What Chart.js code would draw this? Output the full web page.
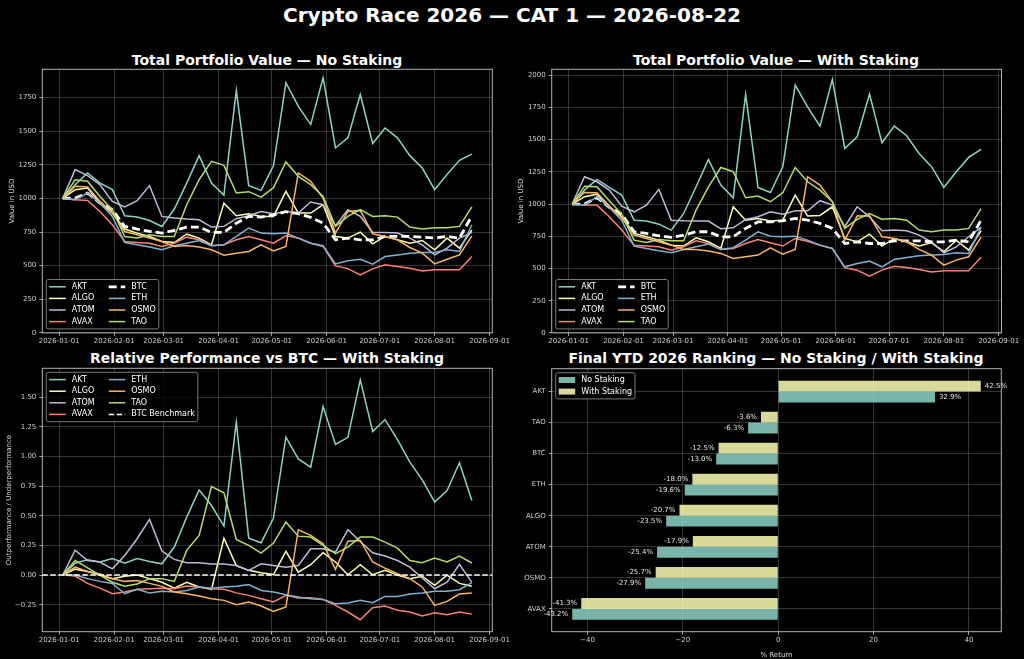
<!DOCTYPE html>
<html>
<head>
<meta charset="utf-8">
<title>Crypto Race 2026</title>
<script src="https://cdn.jsdelivr.net/npm/chart.js@4.4.1/dist/chart.umd.min.js"></script>
<style>
  html, body { margin: 0; padding: 0; background: #000; }
  body { width: 1024px; height: 659px; position: relative; overflow: hidden; font-family: "DejaVu Sans", sans-serif; color: #fff; }
  .ttl { position: absolute; left: 0; width: 1024px; text-align: center; font-weight: bold; font-size: 20px; line-height: 24px; top: 3px; white-space: nowrap; }
  .sub { position: absolute; font-weight: bold; font-size: 14px; line-height: 16px; white-space: nowrap; transform: translateX(-50%); }
  canvas { position: absolute; }
</style>
</head>
<body>
<div class="ttl">Crypto Race 2026 — CAT 1 — 2026-08-22</div>
<div class="sub" style="left:267px;top:52px;">Total Portfolio Value — No Staking</div>
<div class="sub" style="left:776px;top:52px;">Total Portfolio Value — With Staking</div>
<div class="sub" style="left:267px;top:350px;">Relative Performance vs BTC — With Staking</div>
<div class="sub" style="left:776px;top:350px;">Final YTD 2026 Ranking — No Staking / With Staking</div>

<canvas id="tl" width="512" height="290" style="left:0px;top:60px;"></canvas>
<canvas id="tr" width="512" height="290" style="left:509px;top:60px;"></canvas>
<canvas id="bl" width="512" height="290" style="left:0px;top:360px;"></canvas>
<canvas id="br" width="512" height="299" style="left:509px;top:360px;"></canvas>

<script>
// ---------- data ----------
var dates = ['2026-01-03','2026-01-10','2026-01-17','2026-01-24','2026-01-31','2026-02-07','2026-02-14',
             '2026-02-21','2026-02-28','2026-03-07','2026-03-14','2026-03-21','2026-03-28','2026-04-04',
             '2026-04-11','2026-04-18','2026-04-25','2026-05-02','2026-05-09','2026-05-16','2026-05-23',
             '2026-05-30','2026-06-06','2026-06-13','2026-06-20','2026-06-27','2026-07-04','2026-07-11',
             '2026-07-18','2026-07-25','2026-08-01','2026-08-08','2026-08-15','2026-08-22'];

var assets = ['AKT','ALGO','ATOM','AVAX','BTC','ETH','OSMO','TAO'];
var colors = ['#8dd3c7','#feffb3','#bfbbd9','#fa8174','#ffffff','#81b1d2','#fdb462','#b3de69'];

// portfolio value, no staking (USD)
var akt_ns  = [1000,1102,1189,1114,1065,871,861,836,791,921,1114,1318,1114,1025,1802,1095,1060,1245,1860,1686,1549,1897,1375,1450,1773,1408,1524,1450,1318,1226,1065,1177,1283,1329];
var algo_ns = [1000,1065,1077,965,891,772,742,717,680,672,734,705,655,965,871,886,866,866,1052,891,891,953,717,705,749,662,717,692,667,687,618,705,630,765];
var atom_ns = [1000,1214,1169,1102,978,936,983,1095,866,854,846,841,787,792,849,871,903,886,903,891,973,953,797,916,866,749,747,742,705,655,580,630,705,746];
var avax_ns = [1000,990,985,903,804,680,672,667,643,667,712,692,648,655,692,717,692,667,722,705,667,643,498,478,431,476,506,493,481,461,469,469,469,568];
var btc_ns  = [1000,1003,1040,965,916,792,772,755,742,762,787,787,747,747,816,866,861,878,901,886,859,816,692,705,692,692,717,717,717,712,705,717,705,870];
var eth_ns  = [1000,990,1040,965,866,672,655,638,618,648,667,687,648,655,717,779,742,737,742,705,667,648,513,536,548,511,568,580,593,598,598,618,605,804];
var osmo_ns = [1000,1090,1085,978,891,754,730,705,680,643,650,638,618,578,593,605,655,610,643,1189,1127,1003,742,903,911,737,717,692,635,593,513,548,580,721];
var tao_ns  = [1000,1139,1127,1015,916,717,705,730,717,717,953,1139,1276,1246,1040,1050,1010,1080,1271,1164,1102,1015,792,866,916,866,871,861,787,772,782,782,792,937];

// portfolio value, with staking (USD)
var akt_ws  = [1000,1108,1191,1129,1070,875,868,844,798,927,1134,1346,1147,1049,1851,1129,1090,1290,1924,1755,1605,1968,1432,1522,1854,1476,1605,1530,1393,1290,1129,1251,1362,1425];
var algo_ws = [1000,1057,1077,979,901,772,746,720,681,674,738,707,655,979,875,888,868,875,1070,907,912,979,733,707,767,674,733,707,674,699,630,720,643,793];
var atom_ws = [1000,1212,1173,1108,984,940,992,1114,875,870,868,868,808,816,881,901,940,922,948,948,1026,992,824,979,901,793,798,793,759,707,622,668,746,821];
var avax_ws = [1000,992,992,901,798,681,674,668,642,668,715,694,648,655,694,725,699,674,733,712,681,655,505,487,441,487,518,508,492,472,482,482,482,587];
var btc_ws  = [1000,1000,1049,974,922,785,772,754,741,759,785,785,746,746,811,862,862,870,888,875,850,811,694,707,694,694,715,715,715,707,707,720,707,875];
var eth_ws  = [1000,992,1057,974,875,674,655,637,622,648,668,689,648,661,720,785,751,746,751,720,681,655,513,539,557,513,570,586,598,604,609,622,617,820];
var osmo_ws = [1000,1090,1088,984,894,759,733,707,681,648,648,635,617,578,591,604,661,611,648,1212,1147,1018,720,907,909,746,733,707,648,604,526,565,591,743];
var tao_ws  = [1000,1139,1134,1026,922,720,702,725,715,715,953,1134,1284,1251,1049,1062,1018,1088,1284,1173,1108,1018,811,881,927,883,888,875,798,785,798,798,811,964];

// relative performance vs BTC (with staking)
var akt_rel  = [0,0.10,0.13,0.11,0.14,0.10,0.14,0.115,0.095,0.236,0.488,0.718,0.586,0.413,1.288,0.311,0.272,0.48,1.162,0.979,0.909,1.42,1.10,1.16,1.644,1.21,1.31,1.142,0.951,0.802,0.615,0.713,0.946,0.628];
var algo_rel = [0,0.05,0.03,0.0,-0.03,-0.01,0.0,-0.03,-0.06,-0.11,-0.06,-0.10,-0.12,0.31,0.08,0.04,0.02,0.005,0.2,0.025,0.087,0.188,0.11,0.003,0.087,0.003,0.04,0.0,-0.03,-0.01,-0.087,0.0,-0.07,-0.094];
var atom_rel = [0,0.21,0.123,0.11,0.053,0.165,0.306,0.469,0.202,0.132,0.104,0.104,0.093,0.093,0.081,0.04,0.095,0.08,0.067,0.081,0.222,0.222,0.194,0.382,0.283,0.188,0.16,0.123,0.067,-0.025,-0.115,-0.059,0.09,-0.062];
var avax_rel = [0,-0.008,-0.07,-0.11,-0.157,-0.143,-0.12,-0.115,-0.11,-0.115,-0.093,-0.1,-0.115,-0.12,-0.15,-0.171,-0.199,-0.227,-0.171,-0.194,-0.19,-0.205,-0.255,-0.311,-0.376,-0.275,-0.261,-0.297,-0.311,-0.345,-0.317,-0.334,-0.311,-0.329];
var eth_rel  = [0,0.0,-0.03,-0.053,-0.07,-0.157,-0.12,-0.15,-0.137,-0.143,-0.13,-0.1,-0.11,-0.1,-0.095,-0.08,-0.13,-0.143,-0.165,-0.185,-0.199,-0.205,-0.241,-0.236,-0.213,-0.233,-0.18,-0.18,-0.16,-0.15,-0.137,-0.137,-0.123,-0.063];
var osmo_rel = [0,0.067,0.03,0.01,-0.03,-0.053,-0.045,-0.07,-0.095,-0.143,-0.157,-0.177,-0.199,-0.213,-0.25,-0.227,-0.261,-0.306,-0.269,0.382,0.334,0.264,0.048,0.286,0.292,0.11,0.059,0.011,-0.03,-0.1,-0.255,-0.222,-0.16,-0.151];
var tao_rel  = [0,0.123,0.06,0.0,-0.06,-0.093,-0.075,-0.03,-0.03,-0.053,0.208,0.334,0.746,0.693,0.3,0.25,0.185,0.27,0.446,0.328,0.32,0.25,0.18,0.236,0.32,0.32,0.278,0.227,0.123,0.104,0.143,0.11,0.16,0.102];
var btcBenchmark = 0;

// final ranking (% return)
var rankNames   = ['AKT','TAO','BTC','ETH','ALGO','ATOM','OSMO','AVAX'];
var retNoStake  = [32.9,-6.3,-13.0,-19.6,-23.5,-25.4,-27.9,-43.2];
var retWithStake= [42.5,-3.6,-12.5,-18.0,-20.7,-17.9,-25.7,-41.3];

// ticks
var monthTicks = ['2026-01-01','2026-02-01','2026-03-01','2026-04-01','2026-05-01','2026-06-01','2026-07-01','2026-08-01','2026-09-01'];
var usdTicksNS = [0,250,500,750,1000,1250,1500,1750];
var usdTicksWS = [0,250,500,750,1000,1250,1500,1750,2000];
var relTicks   = [-0.25,0,0.25,0.5,0.75,1.0,1.25,1.5];
var pctTicks   = [-40,-20,0,20,40];

// ---------- helpers ----------
var FONT = '"DejaVu Sans", sans-serif';
var GRID = 'rgba(255,255,255,0.26)';
var TICKC = '#cfcfcf';

function dayOf(s){ return (Date.parse(s) - Date.parse('2026-01-01')) / 86400000; }
var xs = dates.map(dayOf);
function pts(vals){ return vals.map(function(v, i){ return {x: xs[i], y: v}; }); }
function minus(s){ return String(s).replace('-', '\u2212'); }

// axes frame on all four sides, like matplotlib spines
var framePlugin = {
    id: 'frame',
    afterDatasetsDraw: function(chart){
        var a = chart.chartArea, ctx = chart.ctx;
        ctx.save();
        ctx.strokeStyle = '#b5b5b5';
        ctx.lineWidth = 1;
        ctx.strokeRect(a.left, a.top, a.right - a.left, a.bottom - a.top);
        ctx.restore();
    }
};

// boxed legend inside the axes, filled column by column
var boxLegend = {
    id: 'boxLegend',
    afterDraw: function(chart, args, opts){
        if(!opts.items) return;
        var ctx = chart.ctx, a = chart.chartArea;
        var items = opts.items, cols = opts.cols || 1;
        var rows = Math.ceil(items.length / cols);
        var rowH = 11.6, sw = 16.5, gap = 6, colSpace = 14;
        ctx.save();
        ctx.font = '8px ' + FONT;
        var colW = [];
        for(var c = 0; c < cols; c++){
            var w = 0;
            for(var r = 0; r < rows; r++){
                var it = items[c*rows + r];
                if(it) w = Math.max(w, ctx.measureText(it.label).width);
            }
            colW.push(w);
        }
        var width = 6 + (cols - 1) * colSpace;
        colW.forEach(function(w){ width += sw + gap + w; });
        var height = rows * rowH + 3;
        var x0 = a.left + 4;
        var y0 = opts.lower ? a.bottom - 4 - height : a.top + 4;

        ctx.beginPath();
        ctx.roundRect(x0, y0, width, height, 2);
        ctx.fillStyle = 'rgba(0,0,0,0.8)';
        ctx.fill();
        ctx.strokeStyle = '#7a7a7a';
        ctx.lineWidth = 1;
        ctx.stroke();

        var cx = x0 + 3;
        for(c = 0; c < cols; c++){
            for(r = 0; r < rows; r++){
                it = items[c*rows + r];
                if(!it) continue;
                var cy = y0 + 1.5 + rowH * (r + 0.5);
                if(it.rect){
                    ctx.fillStyle = it.color;
                    ctx.fillRect(cx, cy - 3, sw, 6);
                }else{
                    ctx.beginPath();
                    ctx.setLineDash(it.dash || []);
                    ctx.strokeStyle = it.color;
                    ctx.lineWidth = it.width;
                    ctx.moveTo(cx, cy);
                    ctx.lineTo(cx + sw, cy);
                    ctx.stroke();
                    ctx.setLineDash([]);
                }
                ctx.fillStyle = '#ffffff';
                ctx.textBaseline = 'middle';
                ctx.textAlign = 'left';
                ctx.fillText(it.label, cx + sw + gap, cy);
            }
            cx += sw + gap + colW[c] + colSpace;
        }
        ctx.restore();
    }
};

// dashed BTC benchmark across the whole axes
var benchPlugin = {
    id: 'bench',
    afterDatasetsDraw: function(chart, args, opts){
        if(!opts.show) return;
        var a = chart.chartArea, ctx = chart.ctx;
        var y = chart.scales.y.getPixelForValue(btcBenchmark);
        ctx.save();
        ctx.strokeStyle = '#ffffff';
        ctx.lineWidth = 1.5;
        ctx.setLineDash([5.5, 2.5]);
        ctx.beginPath();
        ctx.moveTo(a.left, y);
        ctx.lineTo(a.right, y);
        ctx.stroke();
        ctx.restore();
    }
};

// value labels at the end of each bar
var barLabels = {
    id: 'barLabels',
    afterDatasetsDraw: function(chart, args, opts){
        if(!opts.show) return;
        var ctx = chart.ctx;
        ctx.save();
        ctx.font = '7px ' + FONT;
        ctx.fillStyle = '#e6e6e6';
        ctx.textBaseline = 'middle';
        chart.data.datasets.forEach(function(ds, di){
            chart.getDatasetMeta(di).data.forEach(function(bar, i){
                var v = ds.data[i].x;
                ctx.textAlign = v >= 0 ? 'left' : 'right';
                ctx.fillText(v.toFixed(1) + '%', bar.x + (v >= 0 ? 4 : -4), bar.y);
            });
        });
        ctx.restore();
    }
};

Chart.register(framePlugin, boxLegend, benchPlugin, barLabels);

function lineItem(name){
    var k = assets.indexOf(name);
    var isBtc = name === 'BTC';
    return {label: name, color: colors[k], width: isBtc ? 2.8 : 1.5, dash: isBtc ? [8, 4] : []};
}

function xScale(h){
    return {
        type: 'linear', min: -9.55, max: 244.55, offset: false,
        afterBuildTicks: function(s){ s.ticks = monthTicks.map(function(m){ return {value: dayOf(m)}; }); },
        afterFit: function(s){ s.height = h; },
        ticks: { color: TICKC, font: {family: FONT, size: 7}, padding: 1.5, maxRotation: 0, autoSkip: false,
                 callback: function(v, i){ return monthTicks[i]; } },
        grid: { color: GRID, lineWidth: 0.8, tickColor: TICKC, tickLength: 3, offset: false },
        border: { display: false }
    };
}

function yScale(ticks, min, max, title, fmt, w, tpad){
    return {
        type: 'linear', min: min, max: max, offset: false,
        afterBuildTicks: function(s){ s.ticks = ticks.map(function(v){ return {value: v}; }); },
        afterFit: function(s){ s.width = w; },
        ticks: { color: TICKC, font: {family: FONT, size: 7}, padding: 3, callback: fmt },
        grid: { color: GRID, lineWidth: 0.8, tickColor: TICKC, tickLength: 3, offset: false },
        border: { display: false },
        title: { display: true, text: title, color: '#dddddd', font: {family: FONT, size: 7},
                 padding: {top: tpad, bottom: 0} }
    };
}

function seriesSets(list, names){
    return list.map(function(vals, i){
        var k = assets.indexOf(names[i]);
        var isBtc = names[i] === 'BTC';
        return {
            label: names[i], data: pts(vals),
            borderColor: colors[k], backgroundColor: colors[k],
            borderWidth: isBtc ? 2.8 : 1.5, borderDash: isBtc ? [8, 4] : [],
            pointRadius: 0, tension: 0, fill: false,
            order: list.length - i
        };
    });
}

function lineChart(id, sets, xs_, ys_, pad, legend, bench){
    new Chart(document.getElementById(id), {
        type: 'line',
        data: { datasets: sets },
        options: {
            responsive: false, animation: false,
            layout: { padding: pad },
            scales: { x: xs_, y: ys_ },
            plugins: {
                legend: { display: false }, tooltip: { enabled: false },
                boxLegend: legend, bench: { show: !!bench }, barLabels: { show: false }
            }
        }
    });
}

var usdFmt = function(v){ return String(v); };
var relFmt = function(v){ return minus(v.toFixed(2)); };

// ---------- top left: no staking ----------
lineChart('tl',
    seriesSets([akt_ns, algo_ns, atom_ns, avax_ns, btc_ns, eth_ns, osmo_ns, tao_ns], assets),
    xScale(17.1),
    yScale(usdTicksNS, 0, 1960, 'Value in USD', usdFmt, 42.3, 8),
    {left: 0, top: 9.3, right: 19.7, bottom: 0},
    {items: assets.map(lineItem), cols: 2, lower: true});

// ---------- top right: with staking ----------
lineChart('tr',
    seriesSets([akt_ws, algo_ws, atom_ws, avax_ws, btc_ws, eth_ws, osmo_ws, tao_ws], assets),
    xScale(17.1),
    yScale(usdTicksWS, 0, 2046, 'Value in USD', usdFmt, 42.7, 8),
    {left: 0, top: 9.3, right: 19.5, bottom: 0},
    {items: assets.map(lineItem), cols: 2, lower: true});

// ---------- bottom left: relative vs BTC ----------
var relNames = ['AKT','ALGO','ATOM','AVAX','ETH','OSMO','TAO'];
var relItems = relNames.map(lineItem);
relItems.push({label: 'BTC Benchmark', color: '#ffffff', width: 1.5, dash: [5.5, 2.5]});
lineChart('bl',
    seriesSets([akt_rel, algo_rel, atom_rel, avax_rel, eth_rel, osmo_rel, tao_rel], relNames),
    xScale(18.3),
    yScale(relTicks, -0.477, 1.742, 'Outperformance / Underperformance', relFmt, 42.3, 5),
    {left: 0, top: 8.3, right: 19.7, bottom: 0},
    {items: relItems, cols: 2, lower: false}, true);

// ---------- bottom right: final ranking ----------
var tealBar = 'rgba(141,211,199,0.85)';
var yellowBar = 'rgba(254,255,179,0.85)';
new Chart(document.getElementById('br'), {
    type: 'bar',
    data: {
        datasets: [
            { label: 'With Staking', data: rankNames.map(function(n, i){ return {x: retWithStake[i], y: i}; }),
              backgroundColor: yellowBar, borderWidth: 0 },
            { label: 'No Staking', data: rankNames.map(function(n, i){ return {x: retNoStake[i], y: i}; }),
              backgroundColor: tealBar, borderWidth: 0 }
        ]
    },
    options: {
        responsive: false, animation: false, indexAxis: 'y',
        categoryPercentage: 0.7, barPercentage: 1.0,
        layout: { padding: {left: 0, top: 8.7, right: 19.7, bottom: 0} },
        scales: {
            x: {
                type: 'linear', min: -47.5, max: 46.8, offset: false,
                afterBuildTicks: function(s){ s.ticks = pctTicks.map(function(v){ return {value: v}; }); },
                afterFit: function(s){ s.height = 27.3; },
                ticks: { color: TICKC, font: {family: FONT, size: 7}, padding: 1.5, maxRotation: 0,
                         callback: function(v){ return minus(v); } },
                grid: { color: GRID, lineWidth: 0.8, tickColor: TICKC, tickLength: 3, offset: false },
                border: { display: false },
                title: { display: true, text: '% Return', color: '#dddddd', font: {family: FONT, size: 7},
                         padding: {top: 1, bottom: 0} }
            },
            y: {
                type: 'linear', min: -0.735, max: 7.735, reverse: true, offset: false,
                afterBuildTicks: function(s){ s.ticks = rankNames.map(function(n, i){ return {value: i}; }); },
                afterFit: function(s){ s.width = 42.7; },
                ticks: { color: TICKC, font: {family: FONT, size: 7}, padding: 3,
                         callback: function(v){ return rankNames[v]; } },
                grid: { color: GRID, lineWidth: 0.8, tickColor: TICKC, tickLength: 3, offset: false },
                border: { display: false }
            }
        },
        plugins: {
            legend: { display: false }, tooltip: { enabled: false },
            bench: { show: false }, barLabels: { show: true },
            boxLegend: { items: [ {label: 'No Staking', color: tealBar, rect: true},
                                  {label: 'With Staking', color: yellowBar, rect: true} ],
                         cols: 1, lower: false }
        }
    }
});
</script>
</body>
</html>
